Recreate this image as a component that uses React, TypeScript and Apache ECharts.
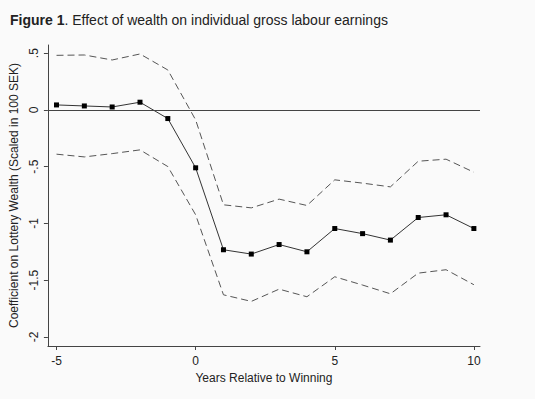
import React, { useEffect, useRef } from "react";
import * as echarts from "echarts";

const years = [-5, -4, -3, -2, -1, 0, 1, 2, 3, 4, 5, 6, 7, 8, 9, 10];
const coef = [0.044, 0.035, 0.026, 0.068, -0.076, -0.51, -1.232, -1.27, -1.186, -1.25, -1.045, -1.09, -1.147, -0.948, -0.924, -1.045];
const upper = [0.481, 0.484, 0.44, 0.493, 0.352, -0.088, -0.836, -0.863, -0.786, -0.842, -0.616, -0.645, -0.678, -0.452, -0.434, -0.549];
const lower = [-0.39, -0.414, -0.385, -0.352, -0.499, -0.924, -1.629, -1.687, -1.579, -1.646, -1.47, -1.543, -1.62, -1.438, -1.408, -1.54];
const yTicks = [-2, -1.5, -1, -0.5, 0, 0.5];
const xTicks = [-5, 0, 5, 10];

const FONT = "Liberation Sans";

export default function App() {
  const ref = useRef<HTMLDivElement>(null);
  useEffect(() => {
    if (!ref.current) return;
    const chart = echarts.init(ref.current, undefined, { renderer: "svg" });
    const pair = (arr: number[]) => years.map((y, i) => [y, arr[i]]);
    const dashStyle = { color: "#555", width: 1, type: [7, 4] as any };
    chart.setOption({
      animation: false,
      backgroundColor: "#fafafa",
      textStyle: { fontFamily: FONT },
      title: {
        left: 5,
        top: 8,
        text: "{b|Figure 1}{n|. Effect of wealth on individual gross labour earnings}",
        textStyle: {
          fontWeight: "normal",
          rich: {
            b: { fontFamily: FONT, fontSize: 14, fontWeight: "bold", color: "#222" },
            n: { fontFamily: FONT, fontSize: 14, fontWeight: "normal", color: "#222" },
          },
        },
      },
      grid: { left: 42, right: 55, top: 45, bottom: 53 },
      xAxis: {
        type: "value",
        min: -5.31,
        max: 10.22,
        name: "Years Relative to Winning",
        nameLocation: "middle",
        nameGap: 17,
        nameTextStyle: { fontFamily: FONT, fontSize: 12, color: "#222" },
        axisLine: { show: true, onZero: false, lineStyle: { color: "#444", width: 1 } },
        axisTick: { show: true, length: 4, lineStyle: { color: "#444" }, customValues: xTicks },
        axisLabel: { fontFamily: FONT, fontSize: 12, color: "#222", margin: 9, customValues: xTicks },
        splitLine: { show: false },
      },
      yAxis: {
        type: "value",
        min: -2.08,
        max: 0.572,
        name: "Coefficient on Lottery Wealth (Scaled in 100 SEK)",
        nameLocation: "middle",
        nameRotate: 90,
        nameGap: 22,
        nameTextStyle: { fontFamily: FONT, fontSize: 12, color: "#222" },
        axisLine: { show: true, onZero: false, lineStyle: { color: "#444", width: 1 } },
        axisTick: { show: true, length: 4, lineStyle: { color: "#444" }, customValues: yTicks },
        axisLabel: {
          fontFamily: FONT,
          fontSize: 12,
          color: "#222",
          rotate: 90,
          margin: 8,
          customValues: yTicks,
          formatter: (v: number) => String(v).replace("0.", "."),
        },
        splitLine: { show: false },
      },
      series: [
        {
          type: "line",
          data: pair(upper),
          symbol: "none",
          lineStyle: dashStyle,
          silent: true,
        },
        {
          type: "line",
          data: pair(lower),
          symbol: "none",
          lineStyle: dashStyle,
          silent: true,
        },
        {
          type: "line",
          data: pair(coef),
          symbol: "rect",
          symbolSize: 5,
          itemStyle: { color: "#000" },
          lineStyle: { color: "#333", width: 1 },
          markLine: {
            silent: true,
            symbol: "none",
            label: { show: false },
            lineStyle: { color: "#444", width: 1, type: "solid" },
            data: [{ yAxis: 0 }],
          },
        },
      ],
    });
    return () => chart.dispose();
  }, []);
  return <div ref={ref} style={{ width: 535, height: 399, position: "absolute", left: 0, top: 0 }} />;
}
